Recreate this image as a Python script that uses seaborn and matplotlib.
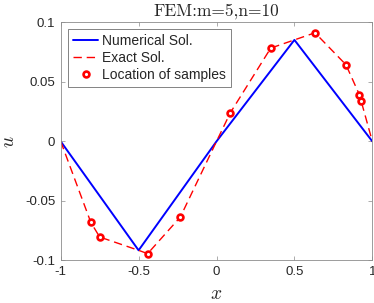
import matplotlib
matplotlib.use("Agg")
import matplotlib.pyplot as plt
import seaborn as sns
import pandas as pd

# FEM nodes (m=5) and numerical solution
node_x = [-1.0, -0.5, 0.0, 0.5, 1.0]
numerical_u = [0.0, -0.0916, 0.0, 0.0853, 0.0]

# sample locations (n=10) and exact solution there
sample_x = [-0.807, -0.75, -0.442, -0.232, 0.089, 0.348, 0.632, 0.831, 0.917, 0.929]
sample_u = [-0.068, -0.0804, -0.0944, -0.0636, 0.0241, 0.0784, 0.0913, 0.0644, 0.0392, 0.0336]

# exact solution drawn through nodes + samples
exact_x = [-1.0, -0.807, -0.75, -0.5, -0.442, -0.232, 0.0, 0.089, 0.348, 0.5,
           0.632, 0.831, 0.917, 0.929, 1.0]
exact_u = [0.0, -0.068, -0.0804, -0.0916, -0.0944, -0.0636, 0.0, 0.0241, 0.0784, 0.0853,
           0.0913, 0.0644, 0.0392, 0.0336, 0.0]

x_ticks = [-1, -0.5, 0, 0.5, 1]
y_ticks = [-0.1, -0.05, 0, 0.05, 0.1]
x_tick_labels = ["-1", "-0.5", "0", "0.5", "1"]
y_tick_labels = ["-0.1", "-0.05", "0", "0.05", "0.1"]

sns.set_theme(style="white")
plt.rcParams.update({
    'font.family': ['Liberation Sans', 'DejaVu Sans'],
    'mathtext.fontset': 'cm',
    'axes.unicode_minus': False,
})

num_df = pd.DataFrame({'x': node_x, 'u': numerical_u})
exact_df = pd.DataFrame({'x': exact_x, 'u': exact_u})

fig = plt.figure(figsize=(3.74, 3.03), dpi=100)
ax = fig.add_axes([0.1623, 0.1409, 0.8332, 0.7851])

sns.lineplot(data=num_df, x='x', y='u', ax=ax, color='#0000ff', linewidth=1.4,
             sort=False, estimator=None, label='Numerical Sol.')
sns.lineplot(data=exact_df, x='x', y='u', ax=ax, color='#ff0000', linewidth=1.0,
             sort=False, estimator=None, label='Exact Sol.')
ax.lines[-1].set_dashes([6, 3.5])
ax.plot(sample_x, sample_u, linestyle='none', marker='o', markersize=4.2,
        markerfacecolor='white', markeredgecolor='#ff0000', markeredgewidth=1.9,
        label='Location of samples')

ax.set_xlim(-1, 1)
ax.set_ylim(-0.1, 0.1)
ax.set_xticks(x_ticks)
ax.set_xticklabels(x_tick_labels)
ax.set_yticks(y_ticks)
ax.set_yticklabels(y_tick_labels)
ax.tick_params(direction='in', length=3, width=0.5, colors='#8c8c8c',
               labelcolor='#262626', labelsize=9.5, top=True, right=True,
               bottom=True, left=True, pad=4)
for s in ax.spines.values():
    s.set_color('#8c8c8c')
    s.set_linewidth(0.6)

ax.set_xlabel(r'$x$', fontsize=14, labelpad=6)
ax.set_ylabel(r'$u$', fontsize=14, labelpad=5)
ax.set_title('FEM:m=5,n=10', fontfamily='cmr10', fontsize=12.5, pad=5)

leg = ax.legend(loc='upper left', bbox_to_anchor=(0.024, 0.971), borderaxespad=0,
                fontsize=10, frameon=True, fancybox=False, handlelength=1.8,
                handletextpad=0.3, labelspacing=0.2, borderpad=0.35)
leg.get_frame().set_edgecolor('#262626')
leg.get_frame().set_linewidth(0.5)
for t in leg.get_texts():
    t.set_color('#262626')

fig.savefig('out.png', dpi=100)
